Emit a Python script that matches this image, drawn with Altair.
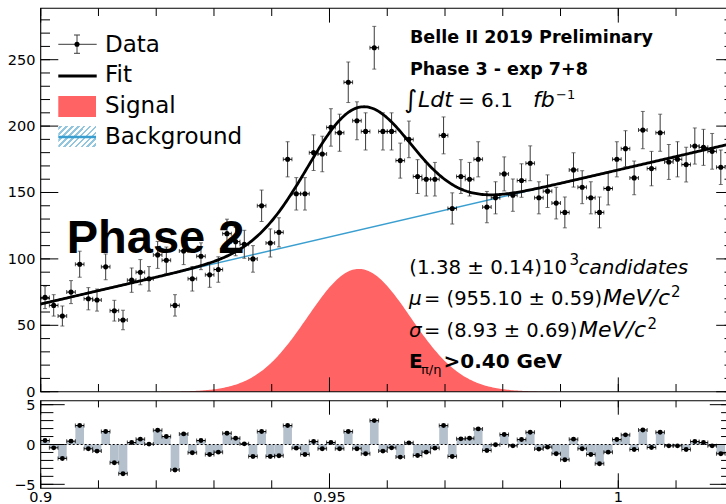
import altair as alt
import numpy as np
import pandas as pd

# ---------------------------------------------------------------
# Invariant-mass histogram, 0.0015 GeV/c^2 bins starting at 0.90
# ---------------------------------------------------------------
X_MIN, X_MAX = 0.90, 1.02
BIN_WIDTH = 0.0015

counts = [71, 65, 57, 75, 96, 70, 69, 94, 61, 54,
          84, 90, 85, 103, 99, 65, 106, 85, 102, 88,
          92, 119, 113, 111, 100, 140, 112, 120, 175, 149,
          149, 180, 179, 199, 195, 233, 204, 196, 259, 196,
          196, 174, 190, 162, 160, 160, 193, 138, 162, 160,
          175, 139, 146, 164, 148, 159, 172, 146, 151, 142,
          135, 167, 154, 146, 135, 153, 175, 183, 161, 197,
          168, 195, 173, 175, 171, 185, 184, 181, 169]

pulls = [0.50, -0.42, -1.75, 0.42, 2.38, -0.54, -0.83, 1.63, -2.29, -3.67,
         0.25, 0.67, 0.05, 1.79, 1.00, -3.20, 1.33, -1.04, 0.50, -1.25,
         -0.96, 1.42, 0.79, 0.08, -1.50, 1.63, -1.50, -1.42, 2.38, -0.46,
         -1.25, 0.38, -0.54, 0.25, -0.54, 1.63, -0.54, -1.17, 3.00, -0.83,
         -0.42, -1.58, 0.21, -1.38, -0.96, -0.46, 2.38, -1.50, 0.71, 0.79,
         1.96, -0.75, -0.04, 1.25, -0.17, 0.63, 1.54, -0.58, -0.33, -1.17,
         -1.92, 0.67, -0.54, -1.25, -2.42, -0.96, 0.63, 1.21, -0.63, 1.83,
         -0.38, 1.54, -0.17, -0.17, -0.63, 0.38, 0.25, -0.17, -1.17]

# fit result (Gaussian signal on a linear background)
N_SIGNAL = 1380.0
MU = 0.95510
SIGMA = 0.00893
BKG_ENDS = [66.0, 187.2]          # background level at X_MIN and X_MAX

# axis ticks
X_TICKS = [0.90, 0.91, 0.92, 0.93, 0.94, 0.95, 0.96, 0.97, 0.98, 0.99, 1.00, 1.01, 1.02]
X_MAJOR = [0.90, 0.95, 1.00]
X_LABELS = ["0.9", "0.95", "1"]
Y_TICKS = list(range(0, 290, 10))
Y_MAJOR = [0, 50, 100, 150, 200, 250]
Y_LABELS = ["0", "50", "100", "150", "200", "250"]
R_TICKS = list(range(-5, 6))
R_MAJOR = [-5, 0, 5]
R_LABELS = ["\u22125", "0", "5"]

# ---------------------------------------------------------------
FONT = "DejaVu Sans"
RED = "#ff6363"
BLUE = "#3a9fd0"
HATCH = "#92c6de"
PULL_FILL = "#b4c0cc"
ERR = "#3a3a3a"

XS = alt.Scale(domain=[X_MIN, X_MAX], range=[40.7, 733.8], nice=False, zero=False)
YS = alt.Scale(domain=[0, 288.7], range=[391.7, 8.3], nice=False, zero=False)
RS = alt.Scale(domain=[-5.5, 5.5], range=[488.3, 400.7], nice=False, zero=False)

idx = np.arange(len(counts))
left = X_MIN + BIN_WIDTH * idx
bins = pd.DataFrame({
    "left": left,
    "right": left + BIN_WIDTH,
    "center": left + BIN_WIDTH / 2,
    "count": counts,
    "pull": pulls,
})

xs = np.linspace(X_MIN, X_MAX, 481)
bkg = BKG_ENDS[0] + (BKG_ENDS[1] - BKG_ENDS[0]) * (xs - X_MIN) / (X_MAX - X_MIN)
sig = N_SIGNAL * BIN_WIDTH / (SIGMA * np.sqrt(2 * np.pi)) * np.exp(-0.5 * ((xs - MU) / SIGMA) ** 2)
curve = pd.DataFrame({"x": xs, "signal": sig, "fit": bkg + sig})
bkg_line = pd.DataFrame({"x": [X_MIN, X_MAX], "bkg": BKG_ENDS})
ONE = pd.DataFrame({"k": [0]})


def xq(field):
    return alt.X(f"{field}:Q", scale=XS, axis=None)


def yq(field, scale):
    return alt.Y(f"{field}:Q", scale=scale, axis=None)


layers = []

# ---------------- upper panel: fit components ----------------
layers.append(alt.Chart(curve).mark_area(color=RED, opacity=1).encode(
    x=xq("x"), y=yq("signal", YS), y2=alt.Y2Datum(0)))
layers.append(alt.Chart(bkg_line).mark_line(color=BLUE, strokeWidth=1.5).encode(
    x=xq("x"), y=yq("bkg", YS)))

# ---------------- upper panel: data with Poisson errors ----------------
data = alt.Chart(bins).transform_calculate(
    lo="datum.count - sqrt(datum.count)",
    hi="datum.count + sqrt(datum.count)")
layers.append(data.mark_rule(color=ERR, strokeWidth=1).encode(
    x=xq("center"), y=yq("lo", YS), y2="hi:Q"))
for end in ["lo", "hi"]:
    layers.append(data.mark_tick(orient="horizontal", size=4, thickness=1, color=ERR).encode(
        x=xq("center"), y=yq(end, YS)))
layers.append(data.mark_rule(color="black", strokeWidth=1).encode(
    x=xq("left"), x2="right:Q", y=yq("count", YS)))
for end in ["left", "right"]:
    layers.append(data.mark_tick(orient="vertical", size=4, thickness=1, color="black").encode(
        x=xq(end), y=yq("count", YS)))
layers.append(alt.Chart(curve).mark_line(color="black", strokeWidth=2.8).encode(
    x=xq("x"), y=yq("fit", YS)))
layers.append(data.mark_circle(size=26, color="black", opacity=1).encode(
    x=xq("center"), y=yq("count", YS)))

# ---------------- lower panel: pulls ----------------
layers.append(alt.Chart(bins).mark_rect(color=PULL_FILL).encode(
    x=xq("left"), x2="right:Q", y=yq("pull", RS), y2=alt.Y2Datum(0)))
layers.append(alt.Chart(ONE).mark_rule(color="black", strokeWidth=1, strokeDash=[2, 2]).encode(
    x=alt.XDatum(X_MIN, type="quantitative", scale=XS, axis=None), x2=alt.X2Datum(X_MAX),
    y=alt.YDatum(0, type="quantitative", scale=RS, axis=None)))
layers.append(alt.Chart(bins).mark_rule(color="black", strokeWidth=1).encode(
    x=xq("left"), x2="right:Q", y=yq("pull", RS)))
for end in ["left", "right"]:
    layers.append(alt.Chart(bins).mark_tick(orient="vertical", size=4, thickness=1, color="black").encode(
        x=xq(end), y=yq("pull", RS)))
layers.append(alt.Chart(bins).mark_circle(size=24, color="black", opacity=1).encode(
    x=xq("center"), y=yq("pull", RS)))

# ---------------- frames ----------------
for scale, lo, hi in [(YS, 0, 288.7), (RS, -5.5, 5.5)]:
    layers.append(alt.Chart(ONE).mark_rect(filled=False, stroke="black", strokeWidth=1.1).encode(
        x=alt.XDatum(X_MIN, type="quantitative", scale=XS, axis=None), x2=alt.X2Datum(X_MAX),
        y=alt.YDatum(lo, type="quantitative", scale=scale, axis=None), y2=alt.Y2Datum(hi)))


# ---------------- tick marks (drawn inside the frames) ----------------
def x_ticks(values, scale, at, offset):
    return alt.Chart(pd.DataFrame({"v": values})).mark_rule(
        color="black", strokeWidth=1, y2Offset=offset).encode(
        x=xq("v"), y=alt.YDatum(at, type="quantitative", scale=scale, axis=None),
        y2=alt.Y2Datum(at))


def y_ticks(values, scale, at, offset):
    return alt.Chart(pd.DataFrame({"v": values})).mark_rule(
        color="black", strokeWidth=1, x2Offset=offset).encode(
        x=alt.XDatum(at, type="quantitative", scale=XS, axis=None), x2=alt.X2Datum(at),
        y=yq("v", scale))


layers += [
    x_ticks(X_TICKS, YS, 0, -7.7), x_ticks(X_MAJOR, YS, 0, -14.3),
    x_ticks(X_TICKS, YS, 288.7, 7.7), x_ticks(X_MAJOR, YS, 288.7, 14.3),
    x_ticks(X_TICKS, RS, -5.5, -8), x_ticks(X_MAJOR, RS, -5.5, -15),
    x_ticks(X_TICKS, RS, 5.5, 6.7), x_ticks(X_MAJOR, RS, 5.5, 14),
    y_ticks(Y_TICKS, YS, X_MIN, 9.3), y_ticks(Y_MAJOR, YS, X_MIN, 17.6),
    y_ticks(Y_TICKS, YS, X_MAX, -9.3), y_ticks(Y_MAJOR, YS, X_MAX, -17.6),
    y_ticks(R_TICKS, RS, X_MIN, 12.7), y_ticks(R_MAJOR, RS, X_MIN, 24),
    y_ticks(R_TICKS, RS, X_MAX, -12.7), y_ticks(R_MAJOR, RS, X_MAX, -24),
]

# ---------------- tick labels ----------------
layers.append(alt.Chart(pd.DataFrame({"v": X_MAJOR, "t": X_LABELS})).mark_text(
    font=FONT, fontSize=14.5, align="center", baseline="alphabetic").encode(
    x=xq("v"), y=alt.value(502), text="t:N"))
layers.append(alt.Chart(pd.DataFrame({"v": Y_MAJOR, "t": Y_LABELS})).mark_text(
    font=FONT, fontSize=14.5, align="right", baseline="alphabetic", dy=5.0).encode(
    x=alt.value(35.5), y=yq("v", YS), text="t:N"))
layers.append(alt.Chart(pd.DataFrame({"v": R_MAJOR, "t": R_LABELS})).mark_text(
    font=FONT, fontSize=14.5, align="right", baseline="alphabetic", dy=5.4).encode(
    x=alt.value(35.5), y=yq("v", RS), text="t:N"))


# ---------------- text annotations ----------------
def note(text, x, y, size, weight="normal", style="normal", font=FONT):
    return alt.Chart(ONE).mark_text(
        text=text, font=font, fontSize=size, fontWeight=weight, fontStyle=style,
        align="left", baseline="alphabetic", color="black").encode(
        x=alt.value(x), y=alt.value(y))


# legend
LEG = 23
layers += [
    note("Data", 105, 51.7, LEG), note("Fit", 105, 82.3, LEG),
    note("Signal", 105, 112.7, LEG), note("Background", 105, 144, LEG),
]
layers.append(alt.Chart(ONE).mark_rule(color=ERR, strokeWidth=1).encode(
    x=alt.value(58.3), x2=alt.value(96.7), y=alt.value(44.3)))
layers.append(alt.Chart(ONE).mark_rule(color=ERR, strokeWidth=1).encode(
    x=alt.value(77), y=alt.value(35), y2=alt.value(53.3)))
for cap_y in [35, 53.3]:
    layers.append(alt.Chart(ONE).mark_rule(color=ERR, strokeWidth=1).encode(
        x=alt.value(74), x2=alt.value(80), y=alt.value(cap_y)))
layers.append(alt.Chart(ONE).mark_circle(size=26, color="black", opacity=1).encode(
    x=alt.value(77), y=alt.value(44.3)))
layers.append(alt.Chart(ONE).mark_rule(color="black", strokeWidth=3).encode(
    x=alt.value(58.3), x2=alt.value(96.7), y=alt.value(76)))
layers.append(alt.Chart(ONE).mark_rect(color=RED).encode(
    x=alt.value(58.3), x2=alt.value(96), y=alt.value(96), y2=alt.value(117)))

n_stripes, half = 10, 0.022
stops = [{"offset": 0, "color": "white"}]
for k in range(n_stripes):
    c = (k + 0.5) / n_stripes
    stops += [{"offset": c - half, "color": "white"}, {"offset": c - half, "color": HATCH},
              {"offset": c + half, "color": HATCH}, {"offset": c + half, "color": "white"}]
stops.append({"offset": 1, "color": "white"})
hatch = {"gradient": "linear", "x1": 0, "y1": 0, "x2": 1.19, "y2": 0.66, "stops": stops}
layers.append(alt.Chart(ONE).mark_rect(fill=hatch).encode(
    x=alt.value(58.3), x2=alt.value(96), y=alt.value(126), y2=alt.value(147)))
layers.append(alt.Chart(ONE).mark_rule(color=BLUE, strokeWidth=2.5).encode(
    x=alt.value(58.3), x2=alt.value(96), y=alt.value(137)))

# experiment labels
layers += [
    note("Belle II 2019 Preliminary", 410, 42.7, 17.5, weight="bold"),
    note("Phase 3 - exp 7+8", 410, 75, 17.5, weight="bold"),
    note("\u222b", 404, 107.5, 25),
    note("Ldt", 418, 106.7, 22, style="italic"),
    note("= 6.1", 458, 106.7, 20),
    note("fb", 533, 106.7, 22, style="italic"),
    note("\u22121", 556, 98.5, 13),
]

# fit results
layers += [
    note("(1.38 \u00b1 0.14)10", 409.3, 274, 19.8),
    note("3", 569.5, 265, 15),
    note("candidates", 578.5, 274, 20, style="italic"),
    note("\u03bc", 409, 305, 20, style="italic"),
    note("= (955.10 \u00b1 0.59)", 424, 305, 19.5),
    note("MeV/c", 603, 305, 22, style="italic"),
    note("2", 671, 297, 15),
    note("\u03c3", 409, 336.7, 20, style="italic"),
    note("= (8.93 \u00b1 0.69)", 424, 336.7, 19.5),
    note("MeV/c", 579, 336.7, 22, style="italic"),
    note("2", 647.5, 328.5, 15),
    note("E", 409, 368.3, 20, weight="bold"),
    note("\u03c0/\u03b7", 421, 373.5, 13),
    note(">0.40 GeV", 443.5, 368.3, 20, weight="bold"),
]

layers.append(note("Phase 2", 66.7, 252.7, 47, weight="bold", font="Liberation Sans"))

chart = alt.layer(*layers).resolve_scale(y="independent").properties(
    width=726, height=504, padding=0,
    autosize=alt.AutoSizeParams(type="none"),
    background="white",
).configure_view(strokeWidth=0)

chart.save("out.html", embed_options={"renderer": "svg", "actions": False})
